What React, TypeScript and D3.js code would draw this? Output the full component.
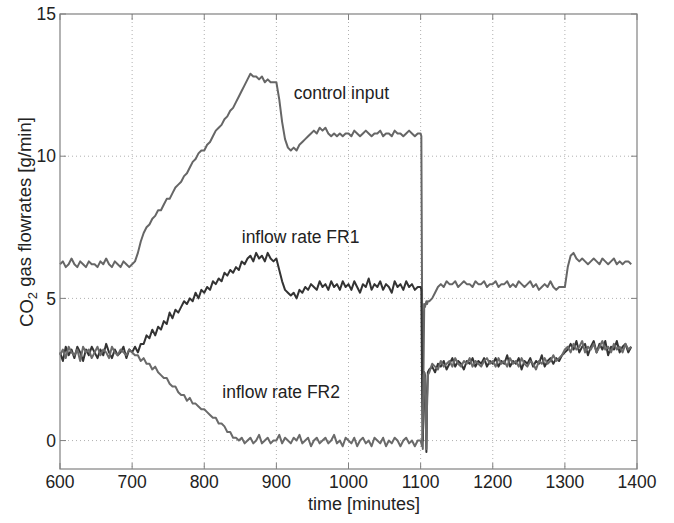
import * as d3 from 'd3';

// sample times: every 4 min, with 1-min samples around the 1100 disturbance
const times = [
  ...d3.range(600, 1100, 4),
  ...d3.range(1100, 1111, 1),
  ...d3.range(1112, 1393, 4),
];

const controlInput = [
  // 600-696
  6.2, 6.3, 6.1, 6.2, 6.4, 6.2, 6.1, 6.3, 6.2, 6.1, 6.3, 6.2, 6.2, 6.1, 6.3, 6.2, 6.4, 6.2, 6.1, 6.3, 6.2, 6.1, 6.3, 6.2, 6.1,
  // 700-796
  6.2, 6.3, 6.6, 7.0, 7.3, 7.5, 7.6, 7.8, 7.9, 8.1, 8.1, 8.3, 8.5, 8.5, 8.7, 8.9, 9.0, 9.1, 9.3, 9.4, 9.6, 9.8, 9.9, 10.1, 10.2,
  // 800-896
  10.2, 10.4, 10.5, 10.7, 10.9, 11.0, 11.1, 11.3, 11.4, 11.6, 11.7, 11.9, 12.1, 12.3, 12.5, 12.7, 12.9, 12.8, 12.8, 12.7, 12.8, 12.6, 12.7, 12.6, 12.6,
  // 900-996
  12.6, 12.0, 11.2, 10.6, 10.3, 10.2, 10.3, 10.2, 10.4, 10.5, 10.6, 10.7, 10.8, 10.9, 10.8, 11.0, 10.9, 11.0, 10.8, 10.7, 10.8, 10.7, 10.8, 10.7, 10.8,
  // 1000-1096
  10.8, 10.7, 10.9, 10.8, 10.7, 10.8, 10.9, 10.8, 10.7, 10.8, 10.8, 10.9, 10.7, 10.8, 10.8, 10.7, 10.9, 10.8, 10.8, 10.7, 10.8, 10.9, 10.8, 10.7, 10.8,
  // 1100-1110
  10.8, 10.7, 5.0, -0.3, 2.5, 4.8, 4.7, 4.8, 4.9, 4.8, 4.9,
  // 1112-1196
  4.9, 5.0, 5.2, 5.4, 5.5, 5.4, 5.6, 5.5, 5.5, 5.6, 5.4, 5.5, 5.6, 5.5, 5.5, 5.4, 5.6, 5.5, 5.5, 5.6, 5.4, 5.5,
  // 1200-1296
  5.5, 5.6, 5.4, 5.5, 5.5, 5.6, 5.4, 5.5, 5.4, 5.6, 5.5, 5.4, 5.5, 5.6, 5.4, 5.5, 5.3, 5.4, 5.5, 5.4, 5.6, 5.4, 5.3, 5.4, 5.4,
  // 1300-1392
  5.4, 6.1, 6.5, 6.6, 6.4, 6.3, 6.4, 6.3, 6.2, 6.3, 6.4, 6.3, 6.2, 6.4, 6.3, 6.2, 6.3, 6.4, 6.2, 6.3, 6.2, 6.3, 6.3, 6.2,
];

const inflowFR1 = [
  3.1, 2.8, 3.3, 3.0, 3.2, 2.9, 3.3, 3.1, 2.8, 3.2, 3.0, 3.3, 3.1, 2.9, 3.2, 3.0, 3.4, 3.1, 2.9, 3.2, 3.0, 3.1, 3.3, 2.9, 3.2,
  3.1, 3.3, 3.1, 3.4, 3.4, 3.7, 3.6, 3.9, 3.7, 4.0, 3.9, 4.2, 4.1, 4.5, 4.3, 4.6, 4.5, 4.7, 4.9, 4.8, 5.0, 4.9, 5.2, 5.0, 5.3,
  5.2, 5.4, 5.3, 5.6, 5.5, 5.7, 5.6, 5.9, 5.8, 6.0, 5.9, 6.1, 6.0, 6.3, 6.2, 6.4, 6.5, 6.3, 6.6, 6.4, 6.5, 6.3, 6.6, 6.4, 6.3,
  6.4, 6.0, 5.6, 5.3, 5.2, 5.1, 5.2, 5.0, 5.3, 5.2, 5.4, 5.3, 5.5, 5.4, 5.3, 5.6, 5.4, 5.5, 5.3, 5.6, 5.4, 5.5, 5.3, 5.6, 5.4,
  5.5, 5.3, 5.6, 5.4, 5.2, 5.5, 5.4, 5.7, 5.3, 5.5, 5.4, 5.6, 5.3, 5.5, 5.4, 5.2, 5.6, 5.4, 5.5, 5.3, 5.6, 5.4, 5.5, 5.3, 5.4,
  5.4, 5.3, 2.0, 0.0, 1.2, 2.4, 2.3, 1.0, -0.4, 1.5, 2.4,
  2.5, 2.6, 2.4, 2.7, 2.6, 2.8, 2.5, 2.7, 2.9, 2.6, 2.8, 2.7, 2.5, 2.8, 2.7, 2.9, 2.6, 2.8, 2.7, 2.9, 2.6, 2.8,
  2.7, 2.9, 2.6, 2.8, 2.7, 3.0, 2.6, 2.8, 2.7, 2.9, 2.5, 2.8, 2.7, 2.9, 2.6, 2.8, 2.7, 3.0, 2.6, 2.8, 2.9, 2.7, 2.9, 2.8, 3.0,
  3.1, 3.2, 3.4, 3.2, 3.5, 3.1, 3.3, 3.4, 3.0, 3.3, 3.5, 3.1, 3.4, 3.2, 3.5, 3.0, 3.3, 3.2, 3.5, 3.1, 3.3, 3.4, 3.1, 3.3,
];

const inflowFR2 = [
  3.0, 3.2, 2.9, 3.3, 3.1, 3.0, 3.2, 2.8, 3.3, 3.1, 3.2, 2.9, 3.1, 3.3, 3.0, 3.2, 3.1, 2.9, 3.3, 3.1, 3.0, 3.2, 3.1, 3.0, 3.2,
  3.1, 3.0, 3.0, 2.8, 2.9, 2.7, 2.7, 2.5, 2.6, 2.4, 2.3, 2.2, 2.2, 2.0, 1.9, 1.9, 1.7, 1.6, 1.6, 1.4, 1.5, 1.3, 1.3, 1.2, 1.1,
  1.1, 1.0, 0.9, 0.8, 0.8, 0.6, 0.6, 0.5, 0.3, 0.3, 0.1, 0.1, 0.0, 0.1, -0.1, 0.0, 0.1, -0.1, 0.0, 0.2, -0.1, 0.0, 0.1, -0.1, 0.0,
  0.0, 0.2, -0.1, 0.1, 0.0, -0.1, 0.1, 0.0, 0.2, -0.1, 0.0, 0.1, -0.2, 0.0, 0.1, -0.1, 0.0, 0.1, -0.1, 0.0, 0.2, -0.1, 0.0, -0.2, 0.1,
  0.0, -0.1, 0.1, -0.2, 0.0, 0.1, -0.1, 0.0, -0.2, 0.1, 0.0, -0.1, 0.1, -0.2, 0.0, -0.1, 0.1, 0.0, -0.2, 0.0, 0.1, -0.1, 0.0, -0.2, 0.0,
  0.0, -0.1, -0.2, 0.5, 2.3, 2.4, 2.2, 0.8, -0.3, 1.4, 2.3,
  2.4, 2.7, 2.6, 2.5, 2.8, 2.6, 2.7, 2.8, 2.6, 2.9, 2.7, 2.6, 2.8, 2.7, 2.9, 2.6, 2.8, 2.7, 2.6, 2.8, 2.9, 2.7,
  2.8, 2.6, 2.9, 2.7, 2.8, 2.6, 2.9, 2.7, 2.8, 2.6, 2.9, 2.7, 2.6, 2.8, 2.7, 2.5, 2.8, 2.7, 2.9, 2.7, 2.8, 3.0, 2.8, 2.9, 3.0,
  3.2, 3.3, 3.1, 3.4, 3.2, 3.3, 3.5, 3.1, 3.3, 3.2, 3.4, 3.1, 3.3, 3.5, 3.2, 3.3, 3.1, 3.4, 3.2, 3.3, 3.1, 3.4, 3.2, 3.3,
];

const xTicks = [600, 700, 800, 900, 1000, 1100, 1200, 1300, 1400];
const yTicks = [0, 5, 10, 15];

// annotation anchors (left edge of text, baseline) in data units
const labels = [
  { text: 'control input', t: 924, v: 12.0 },
  { text: 'inflow rate FR1', t: 852, v: 6.95 },
  { text: 'inflow rate FR2', t: 825, v: 1.5 },
];

const W = 674;
const H = 523;
const margin = { top: 14, right: 37, bottom: 54, left: 60 };
const font = '"Liberation Sans", Arial, Helvetica, sans-serif';
const fs = 17.5;

export default function App() {
  const x = d3.scaleLinear().domain([600, 1400]).range([margin.left, W - margin.right]);
  const y = d3.scaleLinear().domain([-1, 15]).range([H - margin.bottom, margin.top]);

  const line = d3.line<number>()
    .x((_, i) => x(times[i]))
    .y(d => y(d));

  const [x0, x1] = x.range();
  const [y0, y1] = y.range();

  return (
    <svg width={W} height={H} style={{ position: 'absolute', left: 0, top: 0, background: '#fff' }}
      fontFamily={font}>
      {/* dotted grid */}
      <g stroke="#b0b0b0" strokeWidth={1} strokeDasharray="1,3">
        {xTicks.slice(1, -1).map(t => (
          <line key={'gx' + t} x1={x(t)} x2={x(t)} y1={y1} y2={y0} />
        ))}
        {yTicks.slice(0, -1).map(t => (
          <line key={'gy' + t} x1={x0} x2={x1} y1={y(t)} y2={y(t)} />
        ))}
      </g>

      {/* series */}
      <path d={line(controlInput) ?? ''} fill="none" stroke="#666" strokeWidth={2} strokeLinejoin="round" />
      <path d={line(inflowFR1) ?? ''} fill="none" stroke="#333" strokeWidth={2} strokeLinejoin="round" />
      <path d={line(inflowFR2) ?? ''} fill="none" stroke="#6a6a6a" strokeWidth={2} strokeLinejoin="round" />

      {/* box and inner ticks */}
      <rect x={x0} y={y1} width={x1 - x0} height={y0 - y1} fill="none" stroke="#808080" strokeWidth={1.2} />
      <g stroke="#808080" strokeWidth={1}>
        {xTicks.map(t => (
          <g key={'tx' + t}>
            <line x1={x(t)} x2={x(t)} y1={y0} y2={y0 - 6} />
            <line x1={x(t)} x2={x(t)} y1={y1} y2={y1 + 6} />
          </g>
        ))}
        {yTicks.map(t => (
          <g key={'ty' + t}>
            <line x1={x0} x2={x0 + 6} y1={y(t)} y2={y(t)} />
            <line x1={x1} x2={x1 - 6} y1={y(t)} y2={y(t)} />
          </g>
        ))}
      </g>

      {/* tick labels */}
      <g fontSize={fs} fill="#222">
        {xTicks.map(t => (
          <text key={'lx' + t} x={x(t)} y={y0 + 19} textAnchor="middle">{t}</text>
        ))}
        {yTicks.map(t => (
          <text key={'ly' + t} x={x0 - 4} y={y(t)} dy="0.35em" textAnchor="end">{t}</text>
        ))}
      </g>

      {/* axis titles */}
      <text x={364} y={510} textAnchor="middle" fontSize={18} fill="#222">time [minutes]</text>
      <text transform={`translate(33,222) rotate(-90)`} textAnchor="middle" fontSize={18.5} fill="#222">
        CO<tspan fontSize={13} dy="0.3em">2</tspan><tspan dy="-0.3em"> gas flowrates [g/min]</tspan>
      </text>

      {/* annotations */}
      {labels.map(l => (
        <text key={l.text} x={x(l.t)} y={y(l.v)} textAnchor="start" fontSize={fs} fill="#222">{l.text}</text>
      ))}
    </svg>
  );
}
